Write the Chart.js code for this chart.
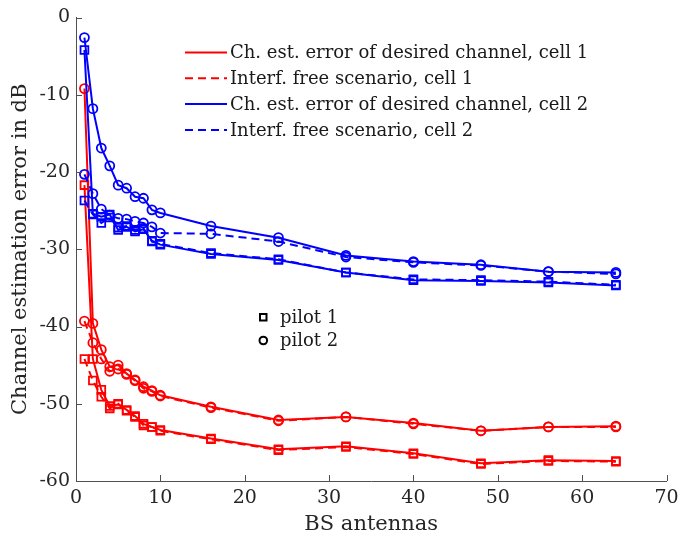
<!DOCTYPE html>
<html>
<head>
<meta charset="utf-8">
<script src="https://cdn.jsdelivr.net/npm/chart.js@4.4.1/dist/chart.umd.min.js"></script>
<style>
    html, body { margin: 0; padding: 0; background: #fff; }
    #wrap { width: 678px; height: 542px; }
</style>
</head>
<body>
<div id="wrap"><canvas id="errorChart" width="678" height="542"></canvas></div>
<script>
// Number of BS antennas on the x axis
const antennas = [1, 2, 3, 4, 5, 6, 7, 8, 9, 10, 16, 24, 32, 40, 48, 56, 64];

// Cell 1, channel estimation error of desired channel (dB)
const cell1Pilot1 = [-21.7, -44.2, -48.2, -50.3, -50.1, -50.8, -51.6, -52.6, -53.0, -53.4, -54.5, -55.9, -55.5, -56.4, -57.7, -57.3, -57.4];
const cell1Pilot2 = [-9.2, -39.6, -43.0, -45.2, -45.0, -46.1, -46.9, -47.8, -48.3, -48.9, -50.4, -52.1, -51.7, -52.5, -53.5, -53.0, -52.9];
// Cell 1, interference free scenario
const cell1FreePilot1 = [-44.2, -47.0, -49.1, -50.6, -50.0, -50.9, -51.7, -52.8, -53.0, -53.5, -54.6, -56.0, -55.6, -56.5, -57.8, -57.4, -57.5];
const cell1FreePilot2 = [-39.3, -42.1, -44.2, -45.8, -45.5, -46.2, -47.0, -48.0, -48.4, -49.0, -50.5, -52.2, -51.7, -52.6, -53.5, -53.0, -53.0];

// Cell 2, channel estimation error of desired channel (dB)
const cell2Pilot1 = [-4.2, -25.4, -25.8, -25.5, -27.5, -27.1, -27.7, -27.4, -28.9, -29.4, -30.6, -31.4, -33.0, -34.0, -34.1, -34.3, -34.7];
const cell2Pilot2 = [-2.6, -11.8, -16.9, -19.2, -21.7, -22.1, -23.2, -23.4, -24.9, -25.3, -27.0, -28.5, -30.8, -31.6, -32.0, -32.9, -33.0];
// Cell 2, interference free scenario
const cell2FreePilot1 = [-23.7, -25.5, -26.6, -25.9, -27.2, -27.0, -27.5, -27.3, -29.0, -29.3, -30.5, -31.3, -33.0, -33.9, -34.0, -34.2, -34.6];
const cell2FreePilot2 = [-20.3, -22.8, -24.8, -25.6, -26.0, -26.1, -26.4, -26.6, -27.1, -27.9, -28.0, -29.0, -31.0, -31.7, -32.1, -32.9, -33.2];

const xTicks = [0, 10, 20, 30, 40, 50, 60, 70];
const yTicks = [0, -10, -20, -30, -40, -50, -60];

const seriesNames = [
    'Ch. est. error of desired channel, cell 1',
    'Interf. free scenario, cell 1',
    'Ch. est. error of desired channel, cell 2',
    'Interf. free scenario, cell 2'
];
const pilotNames = ['pilot 1', 'pilot 2'];

const RED = '#ff0000';
const BLUE = '#0000ff';
const SERIF = "'DejaVu Serif', 'Liberation Serif', serif";

function toPoints(values) {
    return antennas.map((a, i) => ({ x: a, y: values[i] }));
}

function series(values, color, marker, dashed) {
    return {
        data: toPoints(values),
        showLine: true,
        borderColor: color,
        borderWidth: 2,
        borderDash: dashed ? [8, 5] : [],
        pointStyle: marker,
        pointRadius: marker === 'rect' ? 5.5 : 4.5,
        pointBorderWidth: 1.8,
        pointBorderColor: color,
        pointBackgroundColor: 'rgba(0,0,0,0)',
        tension: 0
    };
}

// Tick marks drawn on the inside of the axes
const innerTicks = {
    id: 'innerTicks',
    afterDatasetsDraw(chart) {
        const { ctx, chartArea, scales: { x, y } } = chart;
        ctx.save();
        ctx.strokeStyle = '#505050';
        ctx.lineWidth = 1;
        ctx.beginPath();
        xTicks.forEach(v => {
            const px = Math.round(x.getPixelForValue(v)) + 0.5;
            ctx.moveTo(px, chartArea.bottom);
            ctx.lineTo(px, chartArea.bottom - 6);
        });
        yTicks.forEach(v => {
            const py = Math.round(y.getPixelForValue(v)) + 0.5;
            ctx.moveTo(chartArea.left, py);
            ctx.lineTo(chartArea.left + 6, py);
        });
        ctx.stroke();
        ctx.restore();
    }
};

// Line legend in the upper part of the plot and marker legend below it
const innerLegend = {
    id: 'innerLegend',
    afterDraw(chart) {
        const { ctx } = chart;
        const styles = [[RED, false], [RED, true], [BLUE, false], [BLUE, true]];
        ctx.save();
        ctx.font = '18px ' + SERIF;
        ctx.textBaseline = 'middle';
        ctx.fillStyle = '#1a1a1a';
        ctx.lineWidth = 2;
        seriesNames.forEach((name, i) => {
            const yy = 52.5 + i * 25.8;
            ctx.strokeStyle = styles[i][0];
            ctx.setLineDash(styles[i][1] ? [8, 5] : []);
            ctx.beginPath();
            ctx.moveTo(185, yy);
            ctx.lineTo(227, yy);
            ctx.stroke();
            ctx.fillText(name, 230, yy + 1);
        });
        ctx.setLineDash([]);
        ctx.strokeStyle = '#000';
        ctx.lineWidth = 2;
        pilotNames.forEach((name, i) => {
            const yy = 317 + i * 23.5;
            ctx.beginPath();
            if (i === 0) {
                ctx.rect(260, yy - 3, 6.5, 6.5);
            } else {
                ctx.arc(263.3, yy, 3.8, 0, Math.PI * 2);
            }
            ctx.stroke();
            ctx.fillText(name, 280, yy + 1);
        });
        ctx.restore();
    }
};

const tickFont = { family: SERIF, size: 19 };

new Chart(document.getElementById('errorChart'), {
    type: 'scatter',
    data: {
        datasets: [
            series(cell2FreePilot2, BLUE, 'circle', true),
            series(cell2FreePilot1, BLUE, 'rect', true),
            series(cell2Pilot2, BLUE, 'circle', false),
            series(cell2Pilot1, BLUE, 'rect', false),
            series(cell1FreePilot2, RED, 'circle', true),
            series(cell1FreePilot1, RED, 'rect', true),
            series(cell1Pilot2, RED, 'circle', false),
            series(cell1Pilot1, RED, 'rect', false)
        ]
    },
    options: {
        responsive: false,
        animation: false,
        layout: {
            padding: { left: 0, top: 17.5, right: 11.5, bottom: 0 }
        },
        plugins: {
            legend: { display: false },
            tooltip: { enabled: false }
        },
        scales: {
            x: {
                type: 'linear',
                min: 0,
                max: 70,
                afterFit: scale => {
                    scale.height = 61;
                    scale.paddingLeft = 0;
                    scale.paddingRight = 0;
                },
                afterBuildTicks: scale => { scale.ticks = xTicks.map(v => ({ value: v })); },
                grid: { display: false, drawTicks: false },
                border: { display: true, color: '#505050', width: 1 },
                ticks: { font: tickFont, color: '#262626', padding: 6, maxRotation: 0 },
                title: {
                    display: true,
                    text: 'BS antennas',
                    font: { family: SERIF, size: 21 },
                    color: '#262626',
                    padding: { top: 0, bottom: 5 }
                }
            },
            y: {
                type: 'linear',
                min: -60,
                max: 0,
                afterFit: scale => {
                    scale.width = 76;
                    scale.paddingTop = 0;
                    scale.paddingBottom = 0;
                },
                afterBuildTicks: scale => { scale.ticks = yTicks.map(v => ({ value: v })); },
                grid: { display: false, drawTicks: false },
                border: { display: true, color: '#505050', width: 1 },
                ticks: { font: tickFont, color: '#262626', padding: 6 },
                title: {
                    display: true,
                    text: 'Channel estimation error in dB',
                    font: { family: SERIF, size: 21 },
                    color: '#262626',
                    padding: { top: 8, bottom: 0 }
                }
            }
        }
    },
    plugins: [innerTicks, innerLegend]
});
</script>
</body>
</html>
